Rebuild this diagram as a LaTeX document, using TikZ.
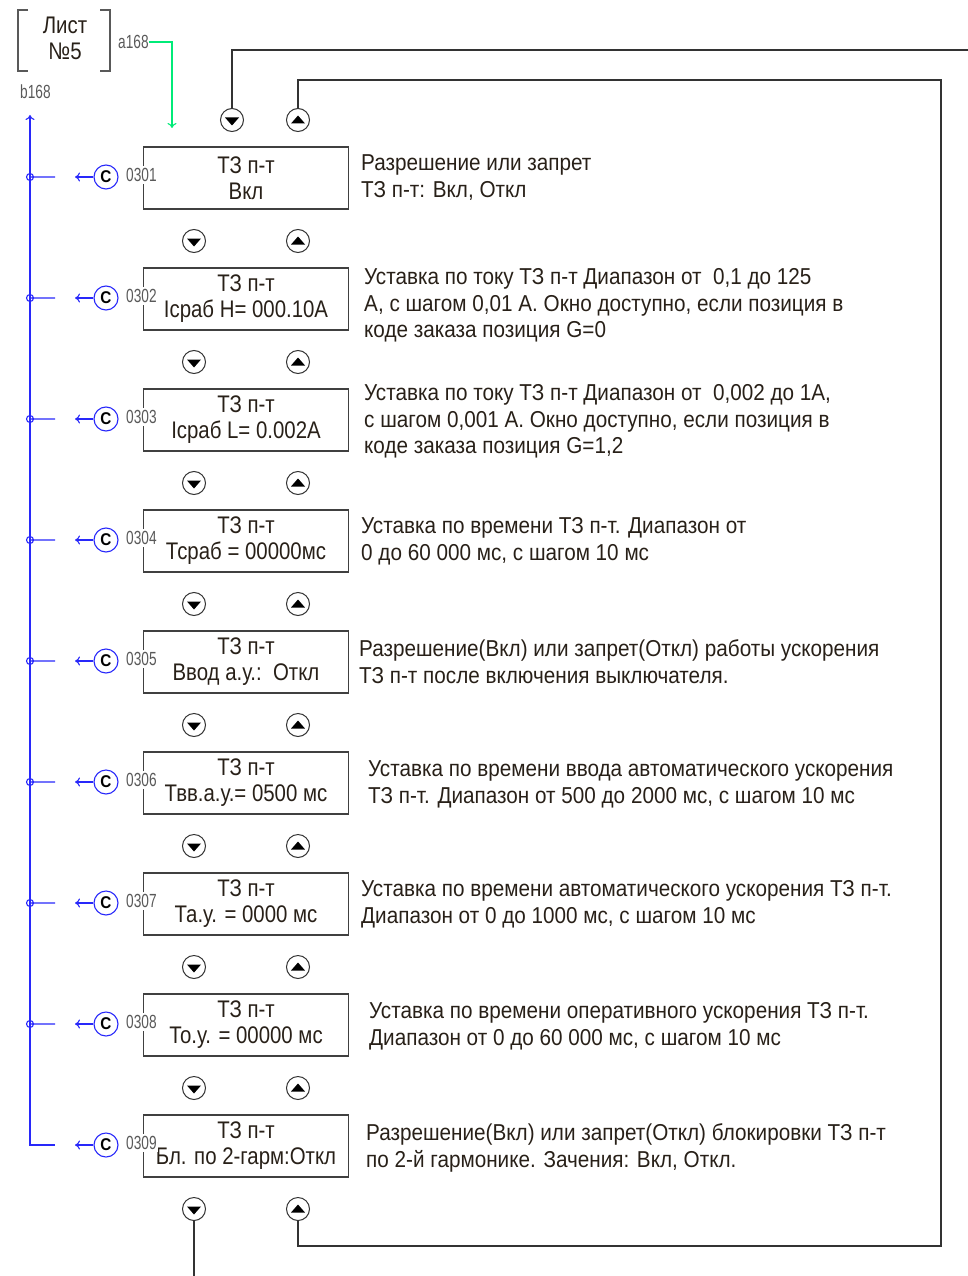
\documentclass[tikz,border=0pt]{standalone}
\usepackage{fontspec}
\setmainfont{Liberation Sans}[FakeStretch=0.9]
\newfontfamily\boxfont{Liberation Sans}[FakeStretch=0.85]
\newfontfamily\codefont{Liberation Sans}[FakeStretch=0.72]
\usetikzlibrary{positioning, arrows.meta, calc}
\definecolor{linkblue}{RGB}{40,40,250}
\definecolor{linkgreen}{RGB}{0,235,120}
\definecolor{inktext}{RGB}{40,32,24}

\begin{document}
\begin{tikzpicture}[
  x=1pt, y=-1pt,
  font=\fontsize{23}{26.5}\selectfont,
  every node/.style={text=inktext},
  menubox/.style={draw=black!75, line width=1.3pt, minimum width=205pt,
                  minimum height=62pt, inner sep=0pt, align=center,
                  font=\boxfont\fontsize{24}{26}\selectfont},
  descr/.style={anchor=north west, inner sep=0pt, align=left},
  navbtn/.style={circle, draw=black!80, line width=1pt, minimum size=23pt,
                 inner sep=0pt},
  btndown/.style={navbtn, path picture={\fill[black]
      ([shift={(-7pt,2.5pt)}]path picture bounding box.center)
      -- ++(14pt,0pt) -- ++(-7pt,-8pt) -- cycle;}},
  btnup/.style={navbtn, path picture={\fill[black]
      ([shift={(-7pt,-3.5pt)}]path picture bounding box.center)
      -- ++(14pt,0pt) -- ++(-7pt,8pt) -- cycle;}},
  wire/.style={draw=black!80, line width=1.3pt},
  sheet/.style={draw=black!65, line width=1.4pt},
  bus/.style={draw=linkblue, line width=1.1pt},
  greenlink/.style={draw=linkgreen, line width=1.1pt},
  ccircle/.style={circle, draw=linkblue, line width=1.1pt, minimum size=24pt,
                  inner sep=0pt, text=black,
                  font=\fontsize{17}{17}\selectfont\bfseries},
  codelbl/.style={anchor=west, inner sep=0pt, text=black!65,
                  font=\codefont\fontsize{19}{19}\selectfont}]

\useasboundingbox (0,0) rectangle (968,1276);

% sheet reference
\draw[sheet] (28,10) -- (18,10) -- (18,71) -- (28,71);
\draw[sheet] (100,10) -- (110,10) -- (110,71) -- (100,71);
\node[align=center, font=\boxfont\fontsize{24}{26}\selectfont] (sheetno) at (65,38) {Лист\\№5};
\node[codelbl] (siga) at (118,42) {a168};
\node[codelbl] (sigb) at (20,92) {b168};
\coordinate (entry) at (172,128);
\draw[greenlink, -{To[length=5pt,width=9pt]}] (siga.east) -| (entry);

% blue return bus
\coordinate (bustop) at (30,115);
\coordinate (busend) at (30,1145);
\draw[bus, {To[length=5pt,width=9pt]}-] (bustop) -- (busend) -- ++(25,0);

% menu windows
\foreach \k/\ty/\val/\dx/\dy/\txt in {
  1/147/{Вкл}/361/7.5/{Разрешение или запрет\\ТЗ п-т: Вкл, Откл},
  2/268/{Iсраб Н= 000.10А}/364/0.5/{Уставка по току ТЗ п-т Диапазон от\ \ 0,1 до 125\\А, с шагом 0,01 А. Окно доступно, если позиция в\\коде заказа позиция G=0},
  3/389/{Iсраб L= 0.002А}/364/-4.5/{Уставка по току ТЗ п-т Диапазон от\ \ 0,002 до 1А,\\с шагом 0,001 А. Окно доступно, если позиция в\\коде заказа позиция G=1,2},
  4/510/{Тсраб = 00000мс}/361/7.5/{Уставка по времени ТЗ п-т. Диапазон от\\0 до 60 000 мс, с шагом 10 мс},
  5/631/{Ввод а.у.:\ \ Откл}/359/8.5/{Разрешение(Вкл) или запрет(Откл) работы ускорения\\ТЗ п-т после включения выключателя.},
  6/752/{Твв.а.у.= 0500 мс}/368/8.5/{Уставка по времени ввода автоматического ускорения\\ТЗ п-т. Диапазон от 500 до 2000 мс, с шагом 10 мс},
  7/873/{Та.у. = 0000 мс}/361/7.5/{Уставка по времени автоматического ускорения ТЗ п-т.\\Диапазон от 0 до 1000 мс, с шагом 10 мс},
  8/994/{То.у. = 00000 мс}/369/8.5/{Уставка по времени оперативного ускорения ТЗ п-т.\\Диапазон от 0 до 60 000 мс, с шагом 10 мс},
  9/1115/{Бл. по 2-гарм:Откл}/366/8.5/{Разрешение(Вкл) или запрет(Откл) блокировки ТЗ п-т\\по 2-й гармонике. Зачения: Вкл, Откл.}}
{
  \node[menubox] (box\k) at (246,\ty+31) {ТЗ п-т\\\val};
  \node[descr] (note\k) at (\dx,\ty+\dy) {\txt};
  \node[ccircle] (sel\k) at (106,\ty+30) {C};
  \node[codelbl, fill=white, inner xsep=1pt, inner ysep=2pt] (code\k) at (125,\ty+28) {030\k};
  \coordinate (tap\k) at (30,\ty+30);
  \coordinate (tip\k) at (75,\ty+30);
  \draw[bus, -{To[length=5pt,width=9pt]}] (sel\k) -- (tip\k);
}
\foreach \k in {1,...,8}
  \draw[bus] (tap\k) circle[radius=3.5pt] -- ++(25,0);

% navigation buttons
\foreach \k in {1,...,10} {
  \pgfmathsetmacro\by{120+121*(\k-1)}
  \ifnum\k=1 \def\bx{232}\else\def\bx{194}\fi
  \node[btndown] (down\k) at (\bx,\by) {};
  \node[btnup] (up\k) at (298,\by) {};
}

% wrap-around wires
\coordinate (outdown) at (968,50);
\coordinate (loopne) at (941,80);
\coordinate (loopse) at (941,1246);
\coordinate (outexit) at (194,1276);
\draw[wire] (down1.north) |- (outdown);
\draw[wire] (up1.north) |- (loopne) -- (loopse) -| (up10.south);
\draw[wire] (down10.south) -- (outexit);
\end{tikzpicture}
\end{document}
